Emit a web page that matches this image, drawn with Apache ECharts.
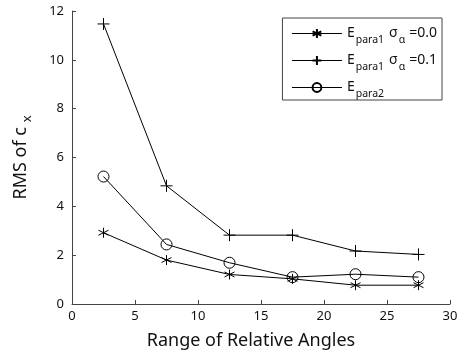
<!DOCTYPE html>
<html><head><meta charset="utf-8">
<script src="https://cdn.jsdelivr.net/npm/echarts@6/dist/echarts.min.js"></script>
<style>html,body{margin:0;padding:0;background:#fff}#c{width:463px;height:351px}</style>
</head><body><div id="c"></div>
<script>
const xValues = [2.5, 7.5, 12.5, 17.5, 22.5, 27.5];
const para1Sigma00 = [2.92, 1.8, 1.21, 1.03, 0.77, 0.77];
const para1Sigma01 = [11.47, 4.84, 2.82, 2.82, 2.17, 2.03];
const para2 = [5.22, 2.44, 1.69, 1.1, 1.22, 1.1];
const seriesNames = ['p1s0', 'p1s1', 'p2'];
const legendLabels = {
  p1s0: '{n|E}{s|para1}{g| }{n|σ}{s|α}{h| }{n|=0.0}',
  p1s1: '{n|E}{s|para1}{g| }{n|σ}{s|α}{h| }{n|=0.1}',
  p2: '{n|E}{s|para2}'
};
const FONT = 'Noto Sans';
const asterisk = 'path://M0,-10L0,10M-8.66,-5L8.66,5M-8.66,5L8.66,-5';
const plus = 'path://M-10,0L10,0M0,-10L0,10';

function pts(ys){ return xValues.map((x,i)=>[x, ys[i]]); }
function mk(name, data, symbol, size){
  return {
    name, type:'line', data: pts(data), symbol, symbolSize: size,
    showAllSymbol:true,
    lineStyle:{color:'#000', width:1},
    itemStyle:{color:'rgba(0,0,0,0)', borderColor:'#000', borderWidth:1},
    emphasis:{disabled:true}, animation:false
  };
}
const chart = echarts.init(document.getElementById('c'));
chart.setOption({
  animation:false,
  textStyle:{fontFamily:FONT},
  grid:{left:72, right:13, top:11, bottom:47, outerBoundsMode:'none', containLabel:false},
  xAxis:{type:'value', min:0, max:30, interval:5,
    axisLine:{lineStyle:{color:'#444'}},
    axisTick:{inside:true, length:4, lineStyle:{color:'#444'}},
    splitLine:{show:false},
    axisLabel:{color:'#111', fontSize:13, fontFamily:FONT, margin:6},
    name:'Range of Relative Angles', nameLocation:'middle', nameGap:28,
    nameTextStyle:{color:'#111', fontSize:18, fontFamily:FONT, padding:[0,20,0,0]}
  },
  yAxis:{type:'value', min:0, max:12, interval:2,
    axisLine:{show:true, lineStyle:{color:'#444'}},
    axisTick:{show:true, inside:true, length:4, lineStyle:{color:'#444'}},
    splitLine:{show:false},
    axisLabel:{color:'#111', fontSize:13, fontFamily:FONT, margin:8},
    name:'{a|RMS of c }{b|x}', nameLocation:'middle', nameGap:38, nameRotate:90,
    nameTextStyle:{color:'#111', fontSize:18, fontFamily:FONT,
      rich:{a:{fontSize:18, fontFamily:FONT, color:'#111'}, b:{fontSize:13, fontFamily:FONT, color:'#111', padding:[14,0,0,0]}}}
  },
  legend:{
    orient:'vertical', right:21, top:18,
    borderColor:'#444', borderWidth:1, padding:[3,5,0,9],
    itemWidth:50, itemHeight:11, itemGap:2,
    lineStyle:{width:1, color:'#000'},
    data: seriesNames,
    formatter: n => legendLabels[n],
    textStyle:{fontFamily:FONT, color:'#111', fontSize:14,
      rich:{
        n:{fontSize:14, fontFamily:FONT, color:'#111', lineHeight:15},
        s:{fontSize:10.5, fontFamily:FONT, color:'#111', lineHeight:11, padding:[14,0,0,1]},
        g:{fontSize:14, width:5},
        h:{fontSize:14, width:4}
      }}
  },
  series:[
    mk('p1s0', para1Sigma00, asterisk, 10),
    mk('p1s1', para1Sigma01, plus, 12),
    mk('p2', para2, 'circle', 11)
  ]
});
</script></body></html>
